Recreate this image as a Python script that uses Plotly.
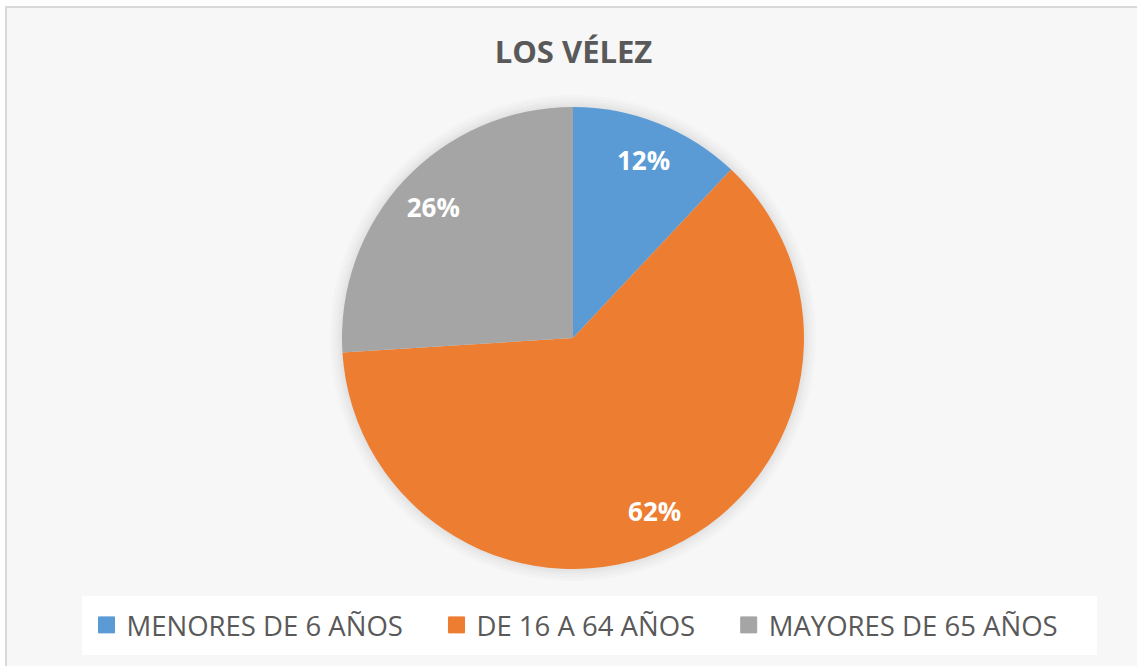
'''
    Pie chart of the population of Los Vélez by age group.
'''

import plotly.graph_objects as go

TITLE = "LOS VÉLEZ"

AGE_GROUPS = [
    "MENORES DE 6 AÑOS",
    "DE 16 A 64 AÑOS",
    "MAYORES DE 65 AÑOS",
]
SHARES = [12, 62, 26]

SLICE_COLORS = ["#5B9BD5", "#ED7D31", "#A5A5A5"]

WIDTH = 1137
HEIGHT = 666
TEXT_COLOR = "#595959"
FONT = "Open Sans, Noto Sans, Arial, sans-serif"

# pie placement in pixels (centre and radius)
PIE_CX, PIE_CY, PIE_R = 573, 338, 231
PIE_DOMAIN = dict(
    x=[(PIE_CX - PIE_R) / WIDTH, (PIE_CX + PIE_R) / WIDTH],
    y=[1 - (PIE_CY + PIE_R) / HEIGHT, 1 - (PIE_CY - PIE_R) / HEIGHT],
)


def generate_plot():
    '''
        Builds the pie figure with Excel-like styling.
    '''
    fig = go.Figure()

    # the slices themselves
    fig.add_trace(go.Pie(
        labels=AGE_GROUPS,
        values=SHARES,
        sort=False,
        direction="clockwise",
        rotation=0,
        marker=dict(colors=SLICE_COLORS, line=dict(width=0)),
        textinfo="none",
        hoverinfo="label+percent",
        showlegend=False,
        domain=PIE_DOMAIN,
    ))

    # transparent ring on top, only to place the labels near the rim like Excel
    fig.add_trace(go.Pie(
        labels=AGE_GROUPS,
        values=SHARES,
        sort=False,
        direction="clockwise",
        rotation=0,
        hole=0.66,
        marker=dict(colors=["rgba(0,0,0,0)"] * len(SHARES), line=dict(width=0)),
        texttemplate="%{percent:.0%}",
        textposition="inside",
        insidetextorientation="horizontal",
        textfont=dict(family=FONT, size=26, color="white", weight="bold"),
        hoverinfo="skip",
        showlegend=False,
        domain=PIE_DOMAIN,
    ))

    # legend entries with bigger square keys
    for name, color in zip(AGE_GROUPS, SLICE_COLORS):
        fig.add_trace(go.Scatter(
            x=[None],
            y=[None],
            mode="markers",
            name=name + "\u00a0" * 4,
            marker=dict(symbol="square", size=16, color=color,
                        line=dict(color=color, width=1)),
            hoverinfo="skip",
        ))

    fig = update_layout(fig)
    return fig


def update_layout(fig):
    '''
        Title, legend, background, frame and soft shadow.
    '''
    fig.update_layout(
        width=WIDTH,
        height=HEIGHT,
        margin=dict(l=0, r=0, t=0, b=0),
        paper_bgcolor="white",
        plot_bgcolor="rgba(0,0,0,0)",
        font=dict(family=FONT, color=TEXT_COLOR),
        title=dict(
            text=TITLE,
            x=573.5 / WIDTH,
            xanchor="center",
            y=1 - 52 / HEIGHT,
            yanchor="middle",
            font=dict(family=FONT, size=31, color=TEXT_COLOR, weight="bold"),
        ),
        legend=dict(
            orientation="h",
            x=589 / WIDTH,
            xanchor="center",
            y=1 - 625 / HEIGHT,
            yanchor="middle",
            bgcolor="white",
            bordercolor="white",
            borderwidth=5,
            font=dict(family=FONT, size=27.5, color=TEXT_COLOR),
            itemsizing="trace",
        ),
        uniformtext=dict(minsize=26, mode="show"),
        showlegend=True,
        xaxis=dict(visible=False),
        yaxis=dict(visible=False),
    )

    # chart frame with light background, cut off at right and bottom
    fig.add_shape(
        type="rect",
        xref="paper",
        yref="paper",
        x0=6 / WIDTH,
        x1=1.02,
        y0=-0.02,
        y1=1 - 7 / HEIGHT,
        line=dict(color="#D9D9D9", width=2),
        fillcolor="#F7F7F7",
        layer="below",
    )

    # soft glow around the pie
    for grow in [12, 9, 6, 4, 2]:
        r = PIE_R + grow
        fig.add_shape(
            type="circle",
            xref="paper",
            yref="paper",
            x0=(PIE_CX - r) / WIDTH,
            x1=(PIE_CX + r) / WIDTH,
            y0=1 - (PIE_CY + r) / HEIGHT,
            y1=1 - (PIE_CY - r) / HEIGHT,
            line=dict(width=0),
            fillcolor="rgba(0,0,0,0.014)",
            layer="below",
        )
    return fig


fig = generate_plot()
fig.write_html(
    "out.html",
    config={"displayModeBar": False},
    post_script="document.body.style.margin='0';",
)
